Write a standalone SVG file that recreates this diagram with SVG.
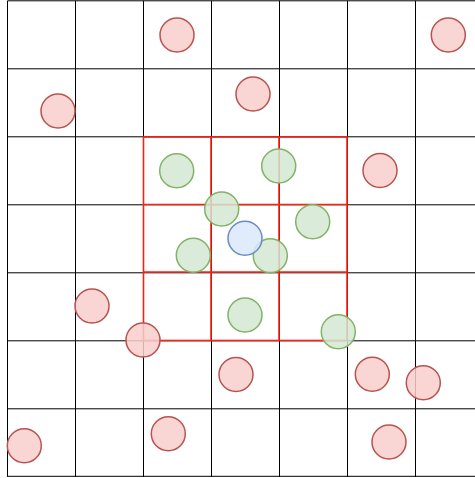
<svg xmlns="http://www.w3.org/2000/svg" width="475" height="478" viewBox="0 0 475 478">
<style>
.grid{stroke:#000;stroke-width:1;fill:none}
.sel{stroke:#ff2010;stroke-width:1.6;fill:none}
circle{stroke-width:1.5;fill-opacity:0.85}
.r{fill:#f8cecc;stroke:#b85450}
.g{fill:#d5e8d4;stroke:#82b366}
.b{fill:#dae8fc;stroke:#6c8ebf}
</style>
<rect width="475" height="478" fill="#fff"/>
<g id="grid" class="grid">
<path d="M7.5 0.8V476.8M75.5 0.8V476.8M143.5 0.8V476.8M211.5 0.8V476.8M279.5 0.8V476.8M347.5 0.8V476.8M415.5 0.8V476.8"/>
<path d="M7.5 0.8H475M7.5 68.8H475M7.5 136.8H475M7.5 204.8H475M7.5 272.8H475M7.5 340.8H475M7.5 408.8H475M7.5 476.3H475"/>
</g>
<g id="neighborhood" class="sel">
<rect x="143.5" y="137" width="203.5" height="203.5"/>
<path d="M211 137V340.5M279 137V340.5M143.5 204.5H347M143.5 272H347"/>
</g>
<g id="red-points">
<g id="r1"><circle class="r" cx="177" cy="35" r="17"/></g>
<g id="r2"><circle class="r" cx="448.3" cy="35" r="17"/></g>
<g id="r3"><circle class="r" cx="253" cy="94" r="17"/></g>
<g id="r4"><circle class="r" cx="58" cy="111" r="17"/></g>
<g id="r5"><circle class="r" cx="380" cy="170.5" r="17"/></g>
<g id="r6"><circle class="r" cx="92" cy="306" r="17"/></g>
<g id="r7"><circle class="r" cx="143" cy="340" r="17"/></g>
<g id="r8"><circle class="r" cx="236" cy="374.5" r="17"/></g>
<g id="r9"><circle class="r" cx="372.3" cy="374.3" r="17"/></g>
<g id="r10"><circle class="r" cx="423.3" cy="382.7" r="17"/></g>
<g id="r11"><circle class="r" cx="24.3" cy="445.7" r="17"/></g>
<g id="r12"><circle class="r" cx="168.3" cy="433.7" r="17"/></g>
<g id="r13"><circle class="r" cx="389" cy="442" r="17"/></g>
</g>
<g id="green-points">
<g id="g1"><circle class="g" cx="176.7" cy="170.7" r="17"/></g>
<g id="g2"><circle class="g" cx="278.7" cy="166" r="17"/></g>
<g id="g3"><circle class="g" cx="221.7" cy="209" r="17"/></g>
<g id="g4"><circle class="g" cx="312.7" cy="221.7" r="17"/></g>
<g id="g5"><circle class="g" cx="193.3" cy="255.3" r="17"/></g>
<g id="g6"><circle class="g" cx="270.3" cy="255.7" r="17"/></g>
<g id="g7"><circle class="g" cx="245" cy="315" r="17"/></g>
<g id="g8"><circle class="g" cx="338.3" cy="331.7" r="17"/></g>
</g>
<g id="query-point"><circle class="b" cx="245" cy="238.3" r="17"/></g>
</svg>
